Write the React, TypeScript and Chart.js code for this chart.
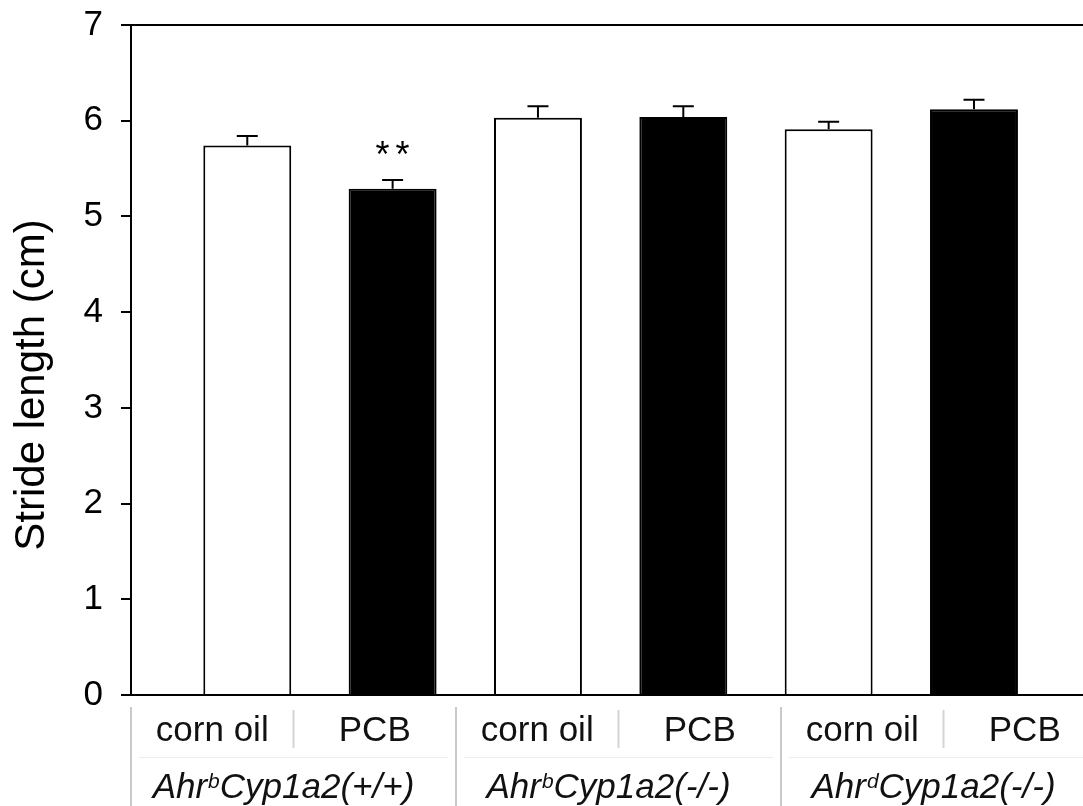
import React, { useEffect, useRef } from 'react';
import { Chart, registerables } from 'chart.js';

Chart.register(...registerables);

// ---- data ----
const treatments = ['corn oil', 'PCB'];
const groupPrefix = ['Ahr', 'Ahr', 'Ahr'];
const groupSup = ['b', 'b', 'd'];
const groupSuffix = ['Cyp1a2(+/+)', 'Cyp1a2(-/-)', 'Cyp1a2(-/-)'];
const barLabels = ['corn oil', 'PCB', 'corn oil', 'PCB', 'corn oil', 'PCB'];
const means = [5.74, 5.29, 6.03, 6.04, 5.91, 6.12];
const sems = [0.1, 0.09, 0.12, 0.11, 0.08, 0.1];
const marks = ['', '**', '', '', '', ''];
const yTicks = [0, 1, 2, 3, 4, 5, 6, 7];
const yTitle = 'Stride length (cm)';

const FONT = '"Liberation Sans", Arial, Helvetica, sans-serif';
const W = 1083;
const H = 806;

const overlayPlugin = {
  id: 'overlay',
  afterDatasetsDraw(chart: any) {
    const ctx = chart.ctx;
    const meta = chart.getDatasetMeta(0);
    const y = chart.scales.y;
    ctx.save();
    ctx.strokeStyle = '#000';
    ctx.lineWidth = 2;
    meta.data.forEach((bar: any, i: number) => {
      const top = y.getPixelForValue(means[i]);
      const cap = y.getPixelForValue(means[i] + sems[i]);
      ctx.beginPath();
      ctx.moveTo(bar.x, top);
      ctx.lineTo(bar.x, cap);
      ctx.moveTo(bar.x - 10.5, cap);
      ctx.lineTo(bar.x + 10.5, cap);
      ctx.stroke();
      if (marks[i]) {
        ctx.font = `36px ${FONT}`;
        ctx.fillStyle = '#000';
        ctx.textAlign = 'center';
        ctx.textBaseline = 'alphabetic';
        (ctx as any).letterSpacing = '6px';
        ctx.fillText(marks[i], bar.x + 3, cap - 13);
        (ctx as any).letterSpacing = '0px';
      }
    });
    ctx.restore();
  },
  afterDraw(chart: any) {
    const ctx = chart.ctx;
    const { left, bottom, top } = chart.chartArea;
    const cell = 162.5;
    ctx.save();
    // y-axis title
    ctx.save();
    ctx.translate(44, (top + bottom) / 2 + 25);
    ctx.rotate(-Math.PI / 2);
    ctx.font = `42px ${FONT}`;
    ctx.fillStyle = '#000';
    ctx.textAlign = 'center';
    ctx.textBaseline = 'alphabetic';
    ctx.fillText(yTitle, 0, 0);
    ctx.restore();
    // group separators
    for (let g = 0; g <= groupPrefix.length; g++) {
      const gl = left + g * 2 * cell;
      ctx.strokeStyle = '#c9c9c9';
      ctx.lineWidth = 2;
      ctx.beginPath();
      ctx.moveTo(gl, bottom + 12);
      ctx.lineTo(gl, H);
      ctx.stroke();
    }
    for (let g = 0; g < groupPrefix.length; g++) {
      const gl = left + g * 2 * cell;
      // divider between treatments
      ctx.strokeStyle = '#d4d4d4';
      ctx.lineWidth = 2;
      ctx.beginPath();
      ctx.moveTo(gl + cell, bottom + 15);
      ctx.lineTo(gl + cell, bottom + 53);
      ctx.stroke();
      // faint horizontal
      ctx.strokeStyle = '#ececec';
      ctx.lineWidth = 1;
      ctx.beginPath();
      ctx.moveTo(gl + 8, bottom + 62.5);
      ctx.lineTo(gl + 2 * cell - 8, bottom + 62.5);
      ctx.stroke();
      // treatment labels
      ctx.fillStyle = '#111';
      ctx.textBaseline = 'alphabetic';
      ctx.textAlign = 'center';
      ctx.font = `35px ${FONT}`;
      treatments.forEach((t, k) => {
        ctx.fillText(t, gl + k * cell + cell / 2, bottom + 46);
      });
      // group label with superscript
      ctx.textAlign = 'left';
      const mainFont = `italic 35px ${FONT}`;
      const supFont = `italic 21px ${FONT}`;
      ctx.font = mainFont;
      const w1 = ctx.measureText(groupPrefix[g]).width;
      const w3 = ctx.measureText(groupSuffix[g]).width;
      ctx.font = supFont;
      const w2 = ctx.measureText(groupSup[g]).width + 1;
      const total = w1 + w2 + w3;
      const cx = gl + cell - 10;
      let x = cx - total / 2;
      const base = bottom + 103;
      ctx.font = mainFont;
      ctx.fillText(groupPrefix[g], x, base);
      x += w1;
      ctx.font = supFont;
      ctx.fillText(groupSup[g], x + 1, base - 10);
      x += w2;
      ctx.font = mainFont;
      ctx.fillText(groupSuffix[g], x, base);
    }
    ctx.restore();
  },
};

export default function App() {
  const ref = useRef<HTMLCanvasElement | null>(null);

  useEffect(() => {
    document.body.style.margin = '0';
    document.body.style.overflow = 'hidden';
    const canvas = ref.current;
    if (!canvas) return;
    const chart = new Chart(canvas, {
      type: 'bar',
      data: {
        labels: barLabels,
        datasets: [
          {
            label: yTitle,
            data: means.map((v, i) => ({ x: i + 1, y: v })) as any,
            backgroundColor: barLabels.map((_, i) => (i % 2 === 0 ? '#ffffff' : '#000000')),
            borderColor: '#000000',
            borderWidth: 2,
            borderSkipped: 'start',
            categoryPercentage: 1,
            barPercentage: 0.605,
          },
        ],
      },
      options: {
        responsive: false,
        animation: false,
        events: [],
        layout: { padding: { top: 25, right: 0, bottom: 111, left: 0 } },
        plugins: {
          legend: { display: false },
          tooltip: { enabled: false },
          title: { display: false },
        },
        scales: {
          x: {
            type: 'linear',
            offset: false,
            min: 0.2,
            max: 6.75,
            afterBuildTicks: (scale: any) => {
              scale.ticks = barLabels.map((_, i) => ({ value: i + 1 }));
            },
            ticks: { display: false },
            grid: { display: true, drawOnChartArea: false, drawTicks: false },
            border: { display: true, color: '#000', width: 2 },
          },
          y: {
            type: 'linear',
            min: yTicks[0],
            max: yTicks[yTicks.length - 1],
            afterFit: (scale: any) => {
              scale.width = 131;
            },
            afterBuildTicks: (scale: any) => {
              scale.ticks = yTicks.map((v) => ({ value: v }));
            },
            ticks: {
              color: '#000',
              font: { family: FONT, size: 35, lineHeight: 0.3 },
              padding: 18,
            },
            grid: {
              display: true,
              drawOnChartArea: true,
              drawTicks: true,
              tickLength: 10,
              lineWidth: 2,
              color: (c: any) =>
                c.tick && c.tick.value === yTicks[yTicks.length - 1] ? '#000' : 'rgba(0,0,0,0)',
              tickColor: '#000',
            },
            border: { display: true, color: '#000', width: 2 },
            title: { display: false, text: yTitle },
          },
        },
      },
      plugins: [overlayPlugin],
    });
    return () => chart.destroy();
  }, []);

  return (
    <div style={{ width: W, height: H, position: 'relative', overflow: 'hidden', background: '#fff' }}>
      <canvas ref={ref} width={W} height={H} style={{ display: 'block' }} />
    </div>
  );
}
